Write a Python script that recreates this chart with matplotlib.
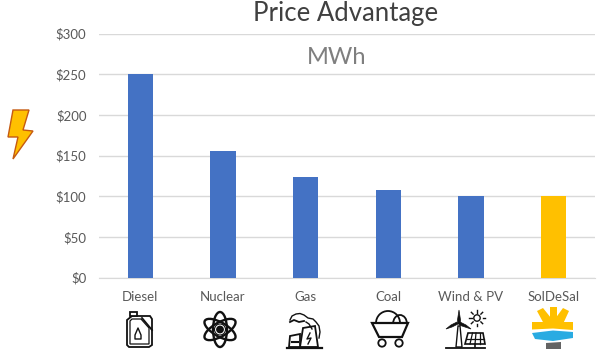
import matplotlib
matplotlib.use("Agg")
import matplotlib.pyplot as plt
from matplotlib.patches import Polygon, Circle, Rectangle, Ellipse, Arc
import numpy as np

categories = ["Diesel", "Nuclear", "Gas", "Coal", "Wind & PV", "SolDeSal"]
values = [250, 155, 124, 107, 100, 100]
bar_colors = ["#4472C4"] * 5 + ["#FFC000"]
y_ticks = [0, 50, 100, 150, 200, 250, 300]
y_labels = ["$0", "$50", "$100", "$150", "$200", "$250", "$300"]
title = "Price Advantage"
subtitle = "MWh"

W, H = 600, 353
plt.rcParams["font.family"] = ["Lato", "DejaVu Sans"]
fig = plt.figure(figsize=(W / 100, H / 100), dpi=100, facecolor="white")

L, R, T, B = 99, 595, 33.5, 277.5
ax = fig.add_axes([L / W, 1 - B / H, (R - L) / W, (B - T) / H])
x = np.arange(len(categories))
ax.bar(x, values, width=0.31, color=bar_colors, zorder=3)
ax.set_xlim(-0.5, 5.5)
ax.set_ylim(0, 300)
ax.set_yticks(y_ticks)
ax.set_yticklabels(y_labels, fontsize=9.5, color="#595959")
ax.set_xticks(x)
ax.set_xticklabels(categories, fontsize=9.5, color="#595959")
ax.tick_params(length=0)
ax.tick_params(axis="y", pad=9)
ax.tick_params(axis="x", pad=10)
ax.grid(axis="y", color="#D9D9D9", lw=1, zorder=0)
for s in ax.spines.values():
    s.set_visible(False)
ax.spines["bottom"].set_visible(True)
ax.spines["bottom"].set_color("#D9D9D9")

# overlay in pixel space for the decorative pictograms
ov = fig.add_axes([0, 0, 1, 1], facecolor="none")
ov.set_xlim(0, W)
ov.set_ylim(H, 0)
ov.axis("off")

ov.text(346, 13, title, fontsize=18.5, color="#404040", ha="center", va="center")
ov.text(337, 57, subtitle, fontsize=17, color="#7F7F7F", ha="center", va="center")

k = "#111111"
lw = 1.3

# lightning bolt
ov.add_patch(Polygon([(13, 110), (29, 110), (23, 130), (33, 131), (13, 159), (18, 137), (8, 137)],
                     closed=True, fc="#FFC000", ec="#C55A11", lw=1))

# jerry can
ov.add_patch(Polygon([(127, 320), (132, 316), (150, 316), (152, 319), (152, 345), (149, 347), (129, 347), (127, 345)],
                     closed=True, fc="white", ec=k, lw=lw))
ov.add_patch(Rectangle((130, 311.5), 7, 4, fc="white", ec=k, lw=lw))
ov.add_patch(Polygon([(130, 321), (132, 319), (141, 319), (149, 328), (149, 344), (130, 344)],
                     closed=True, fc="none", ec=k, lw=0.9))
ov.plot([142, 152], [318, 330], color=k, lw=lw)
ov.add_patch(Polygon([(138, 328), (141, 335), (141, 339), (135, 339), (135, 335)],
                     closed=True, fc="white", ec=k, lw=1, joinstyle="round"))

# atom
for ang in (0, 60, 120):
    ov.add_patch(Ellipse((220, 329.5), 14, 35, angle=ang, fc="none", ec=k, lw=1.7))
ov.add_patch(Circle((220, 329.5), 3.2, fc=k, ec=k))
ov.add_patch(Circle((220, 329.5), 5.5, fc="none", ec=k, lw=0.8))

# gas plant
ov.add_patch(Polygon([(300, 347), (303, 328), (315, 326), (318, 347)], closed=True, fc="white", ec=k, lw=lw))
ov.add_patch(Polygon([(289, 347), (290, 336), (300, 334), (300, 347)], closed=True, fc="white", ec=k, lw=lw))
ov.plot([292, 294], [342, 342], color=k, lw=1.5)
ov.plot([296, 298], [342, 342], color=k, lw=1.5)
ov.plot([287, 322], [347.5, 347.5], color=k, lw=1.6)
ov.plot([310, 307, 311, 308], [333, 339, 338, 344], color=k, lw=1)
ov.plot([290, 292, 296, 300, 304, 308, 313, 316, 319, 320, 319],
        [320, 316, 314, 313.5, 315, 318, 319, 322, 326, 332, 338], color=k, lw=1)
ov.plot([290, 294, 299, 304], [322, 320, 322, 321], color=k, lw=1.3)
ov.plot([306, 309, 312], [322, 324, 329], color=k, lw=1)

# coal cart
ov.add_patch(Arc((388, 323), 24, 24, theta1=180, theta2=360, ec=k, lw=lw))
ov.add_patch(Arc((400, 324), 14, 18, theta1=180, theta2=360, ec=k, lw=lw))
ov.add_patch(Polygon([(372, 323), (408, 323), (402, 337), (379, 337)], closed=True, fc="white", ec=k, lw=1.6))
ov.add_patch(Circle((382, 343), 3.7, fc="white", ec=k, lw=lw))
ov.add_patch(Circle((399, 343), 3.7, fc="white", ec=k, lw=lw))

# wind & PV
ov.plot([446, 485], [347.5, 347.5], color=k, lw=lw)
ov.add_patch(Polygon([(456, 347), (458, 326), (460, 326), (462, 347)], closed=True, fc="white", ec=k, lw=1))
ov.add_patch(Polygon([(458, 324), (457.5, 320), (459, 310), (460.5, 320), (460, 324)], closed=True, fc=k, ec=k, lw=0.5))
ov.add_patch(Polygon([(458, 324), (452, 327), (446, 329), (451, 325), (457, 322)], closed=True, fc=k, ec=k, lw=0.5))
ov.add_patch(Polygon([(460, 322), (466, 325), (471, 329), (465, 327), (459, 325)], closed=True, fc=k, ec=k, lw=0.5))
ov.add_patch(Polygon([(465, 344), (468, 333), (483, 333), (485, 344)], closed=True, fc="white", ec=k, lw=1.2))
ov.plot([466.5, 484], [338.5, 338.5], color=k, lw=0.9)
for xb, xt in ((470, 472.5), (475, 476), (480, 480)):
    ov.plot([xb, xt], [344, 333], color=k, lw=0.9)
ov.plot([475, 475], [344, 347], color=k, lw=1.2)
ov.add_patch(Circle((477, 318), 3.2, fc="none", ec=k, lw=1))
for a in np.deg2rad(np.arange(0, 360, 45)):
    ov.plot([477 + 5.5 * np.cos(a), 477 + 8 * np.cos(a)],
            [318 + 5.5 * np.sin(a), 318 + 8 * np.sin(a)], color=k, lw=1)

# SolDeSal logo
y_sun = "#FFC000"
ov.add_patch(Polygon([(550, 307), (557, 307), (557, 324), (550, 324)], closed=True, fc=y_sun, ec="none"))
ov.add_patch(Polygon([(537, 311), (543, 308), (555, 323), (544, 324)], closed=True, fc=y_sun, ec="none"))
ov.add_patch(Polygon([(569, 311), (563, 308), (552, 323), (563, 324)], closed=True, fc=y_sun, ec="none"))
ov.add_patch(Polygon([(532, 322), (573, 322), (573, 330), (553, 328.5), (532, 329.5)], closed=True, fc=y_sun, ec="none"))
ov.add_patch(Polygon([(532, 333), (553, 330.5), (573, 332), (573, 338), (553, 341), (535, 339)], closed=True, fc="#29ABE2", ec="none"))
ov.add_patch(Polygon([(546, 343), (561, 342), (561, 349), (546, 349)], closed=True, fc="#636363", ec="none"))

fig.savefig("out.png", dpi=100, facecolor="white")
